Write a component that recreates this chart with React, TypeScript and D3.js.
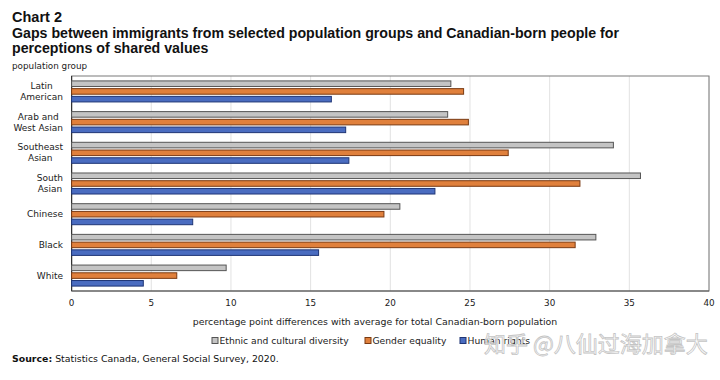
import React, { useEffect, useRef } from "react";
import * as d3 from "d3";

const categories = [
  "Latin American",
  "Arab and West Asian",
  "Southeast Asian",
  "South Asian",
  "Chinese",
  "Black",
  "White",
];
const categoryLines = [
  ["Latin", "American"],
  ["Arab and", "West Asian"],
  ["Southeast", "Asian"],
  ["South", "Asian"],
  ["Chinese"],
  ["Black"],
  ["White"],
];
const seriesNames = ["Ethnic and cultural diversity", "Gender equality", "Human rights"];
const ethnicDiversity = [23.8, 23.6, 34.0, 35.7, 20.6, 32.9, 9.7];
const genderEquality = [24.6, 24.9, 27.4, 31.9, 19.6, 31.6, 6.6];
const humanRights = [16.3, 17.2, 17.4, 22.8, 7.6, 15.5, 4.5];
const xTicks = [0, 5, 10, 15, 20, 25, 30, 35, 40];

const fills = ["#c4c4c4", "#e0803c", "#4a6cc0"];
const strokes = ["#555555", "#7a3a12", "#1f3575"];

const W = 720;
const H = 380;
const plot = { left: 71.6, right: 709, top: 76, bottom: 291 };
const font = "'DejaVu Sans', Verdana, sans-serif";
const titleFont = "'Liberation Sans', Arial, sans-serif";

export default function App() {
  const labelsRef = useRef<SVGGElement>(null);
  const series = [ethnicDiversity, genderEquality, humanRights];

  const x = d3.scaleLinear().domain([0, 40]).range([plot.left, plot.right]);
  const y0 = d3
    .scaleBand<string>()
    .domain(categories)
    .range([plot.top, plot.bottom])
    .paddingInner(0.315)
    .paddingOuter(0.16);
  const y1 = d3
    .scaleBand<string>()
    .domain(seriesNames)
    .range([0, y0.bandwidth()])
    .paddingInner(0.28)
    .paddingOuter(0.0);

  useEffect(() => {
    if (!labelsRef.current) return;
    const groups = d3.select(labelsRef.current).selectAll<SVGGElement, unknown>("g.cat");
    groups.each(function () {
      const g = d3.select(this);
      const texts = g.selectAll<SVGTextElement, unknown>("text");
      let maxW = 0;
      texts.each(function () {
        maxW = Math.max(maxW, this.getComputedTextLength());
      });
      texts.attr("x", 63 - maxW / 2).attr("text-anchor", "middle");
    });
  }, []);

  const legendX = [212, 365, 460];

  return (
    <svg width={W} height={H} style={{ display: "block", position: "absolute", left: 0, top: 0 }}>
      <rect width={W} height={H} fill="#ffffff" />
      {/* titles */}
      <text x={12} y={22} fontFamily={titleFont} fontSize={14.5} fontWeight="bold" fill="#111">
        Chart 2
      </text>
      <text x={12} y={38} fontFamily={titleFont} fontSize={14.2} fontWeight="bold" fill="#111">
        Gaps between immigrants from selected population groups and Canadian-born people for
      </text>
      <text x={12} y={52.5} fontFamily={titleFont} fontSize={14.2} fontWeight="bold" fill="#111">
        perceptions of shared values
      </text>
      <text x={12} y={69} fontFamily={font} fontSize={8.8} fill="#222">
        population group
      </text>

      {/* gridlines */}
      {xTicks.map((t) => (
        <line key={"g" + t} x1={x(t)} x2={x(t)} y1={plot.top} y2={plot.bottom} stroke="#e2e2e2" strokeWidth={1} />
      ))}
      {/* frame */}
      <rect
        x={plot.left}
        y={plot.top}
        width={plot.right - plot.left}
        height={plot.bottom - plot.top}
        fill="none"
        stroke="#7a7a7a"
        strokeWidth={1}
      />
      <line x1={plot.left} x2={plot.left} y1={plot.top} y2={plot.bottom} stroke="#333" strokeWidth={1.2} />
      <line x1={plot.left} x2={plot.right} y1={plot.bottom} y2={plot.bottom} stroke="#555" strokeWidth={1.2} />

      {/* bars */}
      {categories.map((c, ci) => (
        <g key={c} transform={`translate(0,${y0(c)})`}>
          {seriesNames.map((s, si) => (
            <rect
              key={s}
              x={x(0)}
              y={y1(s)}
              width={x(series[si][ci]) - x(0)}
              height={y1.bandwidth()}
              fill={fills[si]}
              stroke={strokes[si]}
              strokeWidth={1}
            />
          ))}
        </g>
      ))}

      {/* category labels */}
      <g ref={labelsRef}>
        {categories.map((c, ci) => {
          const lines = categoryLines[ci];
          const cy = (y0(c) as number) + y0.bandwidth() / 2;
          const lh = 11;
          return (
            <g className="cat" key={c}>
              {lines.map((l, li) => (
                <text
                  key={l}
                  x={63}
                  y={cy + (li - (lines.length - 1) / 2) * lh}
                  dy="0.35em"
                  textAnchor="end"
                  fontFamily={font}
                  fontSize={9}
                  fill="#222"
                >
                  {l}
                </text>
              ))}
            </g>
          );
        })}
      </g>

      {/* x tick labels */}
      {xTicks.map((t) => (
        <text key={"t" + t} x={x(t)} y={303} dy="0.35em" textAnchor="middle" fontFamily={font} fontSize={8.8} fill="#222">
          {t}
        </text>
      ))}
      <text x={375} y={322} dy="0.35em" textAnchor="middle" fontFamily={font} fontSize={9.4} fill="#222">
        percentage point differences with average for total Canadian-born population
      </text>

      {/* legend */}
      {seriesNames.map((s, si) => (
        <g key={"l" + s} transform={`translate(${legendX[si]},341)`}>
          <rect x={0} y={-3.5} width={6} height={6} fill={fills[si]} stroke={strokes[si]} strokeWidth={1} />
          <text x={7.5} y={0} dy="0.35em" fontFamily={font} fontSize={9.2} fill="#222">
            {s}
          </text>
        </g>
      ))}

      {/* source */}
      <text x={12} y={359} dy="0.35em" fontFamily={font} fontSize={9.4} fill="#111">
        <tspan fontWeight="bold">Source:</tspan> Statistics Canada, General Social Survey, 2020.
      </text>

      {/* watermark */}
      <text
        x={484}
        y={352}
        fontFamily="'Noto Sans CJK SC', sans-serif"
        fontSize={22}
        fill="#ffffff"
        fillOpacity={0.6}
        stroke="#c4c4c4"
        strokeWidth={0.8}
      >
        知乎 @八仙过海加拿大
      </text>
    </svg>
  );
}
